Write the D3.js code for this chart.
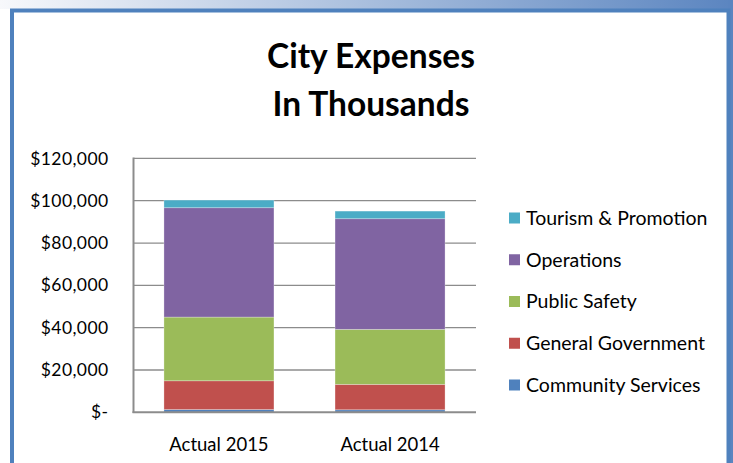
<!DOCTYPE html>
<html lang="en">
<head>
  <meta charset="UTF-8">
  <title>City Expenses</title>
  <script src="https://d3js.org/d3.v7.min.js"></script>
  <style>
    body { margin: 0; background: #fff; }
    svg { display: block; font-family: Lato, "Open Sans", sans-serif; }
  </style>
</head>
<body>
  <svg width="733" height="463"></svg>
  <script>
    // Chart data (in thousands of dollars)
    const categories = ["Actual 2015", "Actual 2014"];
    const seriesNames = ["Community Services", "General Government", "Public Safety", "Operations", "Tourism & Promotion"];
    const communityServices = [1300, 1200];
    const generalGovernment = [13600, 12000];
    const publicSafety = [30100, 26000];
    const operations = [51700, 52300];
    const tourismPromotion = [3600, 3600];
    const tickValues = [0, 20000, 40000, 60000, 80000, 100000, 120000];
    const colors = ["#4f81bd", "#c0504d", "#9bbb59", "#8064a2", "#4bacc6"];

    const svg = d3.select("svg");

    // frame: gradient band at top + blue border
    const defs = svg.append("defs");
    const grad = defs.append("linearGradient").attr("id", "band");
    grad.append("stop").attr("offset", "0%").attr("stop-color", "#f7f8fb");
    grad.append("stop").attr("offset", "100%").attr("stop-color", "#5b85c0");
    svg.append("rect").attr("x", 0).attr("y", 0).attr("width", 733).attr("height", 9).attr("fill", "url(#band)");
    svg.append("rect").attr("x", 728).attr("y", 0).attr("width", 5).attr("height", 463).attr("fill", "#5b85c0");
    svg.append("path")
      .attr("d", "M12,463 V10.5 H728.5 V463")
      .attr("fill", "none").attr("stroke", "#4f81bd").attr("stroke-width", 4);

    // title
    const title = svg.append("text")
      .attr("text-anchor", "middle")
      .attr("font-weight", "bold")
      .attr("font-size", 33.5)
      .attr("fill", "#000");
    title.append("tspan").attr("x", 371).attr("y", 68).text("City Expenses");
    title.append("tspan").attr("x", 371).attr("y", 116).text("In Thousands");

    // stack
    const rows = categories.map((c, i) => ({
      category: c,
      "Community Services": communityServices[i],
      "General Government": generalGovernment[i],
      "Public Safety": publicSafety[i],
      "Operations": operations[i],
      "Tourism & Promotion": tourismPromotion[i]
    }));
    const stacked = d3.stack().keys(seriesNames)(rows);

    const x = d3.scaleBand().domain(categories).range([133.5, 475.5]).paddingInner(0.357).paddingOuter(0.178);
    const y = d3.scaleLinear().domain([0, 120000]).range([412.3, 158.4]);

    // gridlines
    svg.append("g")
      .selectAll("line")
      .data(tickValues.slice(1))
      .join("line")
      .attr("x1", 133.5).attr("x2", 476)
      .attr("y1", d => y(d)).attr("y2", d => y(d))
      .attr("stroke", "#8c8c8c").attr("stroke-width", 1.3);

    // bars
    svg.append("g")
      .selectAll("g")
      .data(stacked)
      .join("g")
      .attr("fill", (d, i) => colors[i])
      .selectAll("rect")
      .data(d => d)
      .join("rect")
      .attr("x", d => x(d.data.category))
      .attr("width", x.bandwidth())
      .attr("y", d => y(d[1]))
      .attr("height", d => y(d[0]) - y(d[1]))
      .attr("stroke", "rgba(255,255,255,0.35)")
      .attr("stroke-width", 0.8);

    // axes
    const yAxis = d3.axisLeft(y)
      .tickValues(tickValues)
      .tickSize(0)
      .tickPadding(25)
      .tickFormat(d => d === 0 ? "$-" : "$" + d3.format(",")(d));
    const gy = svg.append("g").attr("transform", "translate(133.5,0)").call(yAxis);
    gy.select(".domain").remove();
    gy.selectAll("text").attr("font-size", 17.5).attr("letter-spacing", 0.4)
      .attr("fill", "#000").attr("font-family", "Lato, sans-serif");

    svg.append("line").attr("x1", 133.5).attr("x2", 133.5).attr("y1", 157.5).attr("y2", 413)
      .attr("stroke", "#8c8c8c").attr("stroke-width", 2);
    svg.append("line").attr("x1", 132.5).attr("x2", 476).attr("y1", y(0)).attr("y2", y(0))
      .attr("stroke", "#8c8c8c").attr("stroke-width", 2);

    const xAxis = d3.axisBottom(x).tickSize(0).tickPadding(26);
    const gx = svg.append("g").attr("transform", `translate(0,${y(0)})`).call(xAxis);
    gx.select(".domain").remove();
    gx.selectAll("text").attr("font-size", 18.5).attr("fill", "#000").attr("font-family", "Lato, sans-serif");

    // legend (top to bottom: reverse stack order)
    const legendY = d3.scalePoint().domain(seriesNames.slice().reverse()).range([218, 385]);
    const legend = svg.append("g")
      .selectAll("g")
      .data(seriesNames.slice().reverse())
      .join("g")
      .attr("transform", d => `translate(509,${legendY(d)})`);
    legend.append("rect")
      .attr("x", 0).attr("y", -5.5).attr("width", 11).attr("height", 11)
      .attr("fill", d => colors[seriesNames.indexOf(d)]);
    legend.append("text")
      .attr("x", 17).attr("dy", "0.35em")
      .attr("font-size", 19.5)
      .attr("fill", "#000")
      .text(d => d);
  </script>
</body>
</html>
